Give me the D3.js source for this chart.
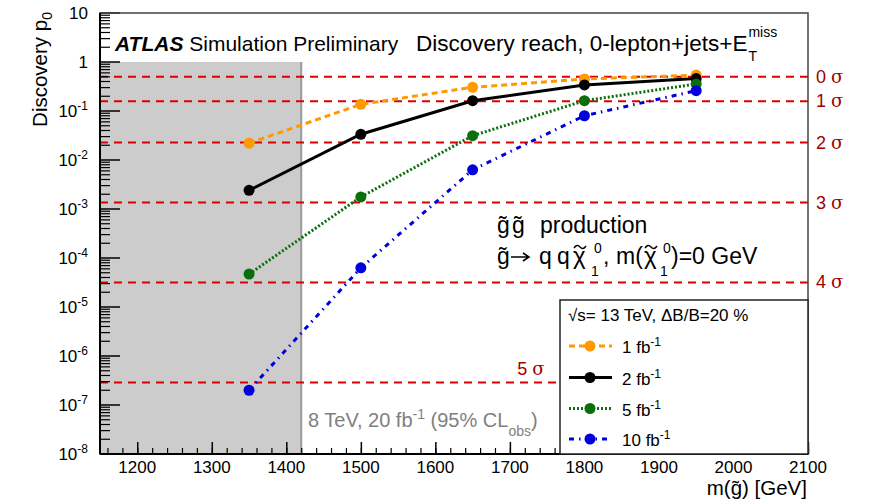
<!DOCTYPE html>
<html>
<head>
<meta charset="utf-8">
<script src="https://cdn.jsdelivr.net/npm/d3@7"></script>
<style>
  body { margin: 0; background: #fff; }
  svg text { font-family: "Liberation Sans", Arial, Helvetica, sans-serif; }
</style>
</head>
<body>
<svg id="chart" width="869" height="501"></svg>
<script>
// gluino masses (GeV)
const masses = [1350, 1500, 1650, 1800, 1950];

// discovery p0 per luminosity
const p0_1fb = [0.022, 0.137, 0.305, 0.45, 0.54];
const p0_2fb = [0.0024, 0.0335, 0.162, 0.34, 0.46];
const p0_5fb = [4.7e-5, 0.00176, 0.0313, 0.162, 0.356];
const p0_10fb = [2.0e-7, 6.3e-5, 0.0063, 0.080, 0.26];

const seriesLabels = ["1", "2", "5", "10"];
const seriesColors = ["#ff9900", "#000000", "#0a6e0a", "#0000dd"];
const seriesDash = ["6,4", null, "2,2", "5,5,1.5,5"];

// significance reference lines
const sigmaLevels = [0, 1, 2, 3, 4, 5];
const sigmaP0 = [0.5, 0.1587, 0.02275, 0.00135, 3.17e-5, 2.87e-7];

// excluded region (8 TeV)
const excludedMax = 1420;

const xTicks = [1200, 1300, 1400, 1500, 1600, 1700, 1800, 1900, 2000, 2100];
const yExponents = [1, 0, -1, -2, -3, -4, -5, -6, -7, -8];

const margin = { top: 13, right: 61, bottom: 47, left: 100 };
const width = 869 - margin.left - margin.right;
const height = 501 - margin.top - margin.bottom;

const svg = d3.select("#chart");
const g = svg.append("g").attr("transform", "translate(" + margin.left + "," + margin.top + ")");

const x = d3.scaleLinear().domain([1150, 2100]).range([0, width]);
const y = d3.scaleLog().domain([1e-8, 10]).range([height, 0]);

// gray excluded band
g.append("rect")
  .attr("x", x(1150))
  .attr("y", y(1))
  .attr("width", x(excludedMax) - x(1150))
  .attr("height", y(1e-8) - y(1))
  .attr("fill", "#cccccc");
g.append("line")
  .attr("x1", x(excludedMax)).attr("x2", x(excludedMax))
  .attr("y1", y(1)).attr("y2", y(1e-8))
  .attr("stroke", "#999").attr("stroke-width", 2);

// sigma lines
g.selectAll(".sigma")
  .data(sigmaP0)
  .enter()
  .append("line")
  .attr("class", "sigma")
  .attr("x1", 0).attr("x2", width)
  .attr("y1", (d) => y(d)).attr("y2", (d) => y(d))
  .attr("stroke", "#dd0000")
  .attr("stroke-width", 2)
  .attr("stroke-dasharray", "8,6");

// curves
const allSeries = [p0_1fb, p0_2fb, p0_5fb, p0_10fb];
const line = d3.line().x((d, i) => x(masses[i])).y((d) => y(d));

allSeries.forEach((vals, k) => {
  g.append("path")
    .attr("d", line(vals))
    .attr("fill", "none")
    .attr("stroke", seriesColors[k])
    .attr("stroke-width", 3)
    .attr("stroke-dasharray", seriesDash[k]);
});
allSeries.forEach((vals, k) => {
  g.selectAll(".pt" + k)
    .data(vals)
    .enter()
    .append("circle")
    .attr("cx", (d, i) => x(masses[i]))
    .attr("cy", (d) => y(d))
    .attr("r", 5.5)
    .attr("fill", seriesColors[k]);
});

// axes
const xAxis = d3.axisBottom(x).tickValues(d3.range(1160, 2101, 20)).tickSize(6).tickFormat("");
g.append("g").attr("transform", "translate(0," + height + ")").call(xAxis)
  .call((a) => a.selectAll("line").attr("transform", "translate(0,-6)").attr("stroke-width", 1.2));
g.append("g").attr("transform", "translate(0," + height + ")")
  .call(d3.axisBottom(x).tickValues(xTicks).tickSize(12).tickFormat(""))
  .call((a) => a.selectAll("line").attr("transform", "translate(0,-12)").attr("stroke-width", 1.5));
g.selectAll(".domain").remove();

g.selectAll(".xlab")
  .data(xTicks)
  .enter()
  .append("text")
  .attr("x", (d) => x(d))
  .attr("y", height + 19)
  .attr("text-anchor", "middle")
  .attr("font-size", 17)
  .attr("fill", "#000")
  .text((d) => d);

// y ticks (log minor and major)
const yMinor = [];
for (let e = -8; e < 1; e++) for (let m = 2; m <= 9; m++) yMinor.push(m * Math.pow(10, e));
g.selectAll(".yminor")
  .data(yMinor)
  .enter()
  .append("line")
  .attr("x1", 0).attr("x2", 10)
  .attr("y1", (d) => y(d)).attr("y2", (d) => y(d))
  .attr("stroke", "#000").attr("stroke-width", 1.2);
g.selectAll(".ymajor")
  .data(yExponents)
  .enter()
  .append("line")
  .attr("x1", 0).attr("x2", 20)
  .attr("y1", (d) => y(Math.pow(10, d))).attr("y2", (d) => y(Math.pow(10, d)))
  .attr("stroke", "#000").attr("stroke-width", 1.5);

const ylab = g.selectAll(".ylab")
  .data(yExponents)
  .enter()
  .append("text")
  .attr("x", -12)
  .attr("y", (d) => y(Math.pow(10, d)) + 6)
  .attr("text-anchor", "end")
  .attr("font-size", 17)
  .attr("fill", "#000");
ylab.each(function (d) {
  const t = d3.select(this);
  if (d === 1) t.text("10");
  else if (d === 0) t.text("1");
  else {
    t.append("tspan").text("10");
    t.append("tspan").attr("dy", -7).attr("font-size", 12).text(d);
  }
});

// frame
g.append("rect")
  .attr("x", 0).attr("y", 0).attr("width", width).attr("height", height)
  .attr("fill", "none").attr("stroke", "#444").attr("stroke-width", 1.5);
g.append("line").attr("x1", 0).attr("x2", 0).attr("y1", 0).attr("y2", height)
  .attr("stroke", "#000").attr("stroke-width", 2);
g.append("line").attr("x1", 0).attr("x2", width).attr("y1", height).attr("y2", height)
  .attr("stroke", "#000").attr("stroke-width", 2);

// sigma labels
sigmaLevels.forEach((s, i) => {
  const inside = s === 5;
  const t = g.append("text")
    .attr("x", inside ? x(1710) : width + 8)
    .attr("y", y(sigmaP0[i]) + (inside ? -8 : 6))
    .attr("fill", "#a00000")
    .attr("font-size", 18);
  t.append("tspan").text(s + " ");
  t.append("tspan").attr("font-family", "DejaVu Serif, serif").attr("font-size", 18).text("σ");
});

// legend
const lx = 560 - margin.left, ly = 300 - margin.top;
g.append("rect")
  .attr("x", lx).attr("y", ly)
  .attr("width", width - lx).attr("height", height - ly)
  .attr("fill", "#fff").attr("stroke", "#222").attr("stroke-width", 1.5);
g.append("text").attr("x", lx + 8).attr("y", ly + 21).attr("font-size", 17).attr("fill", "#000")
  .text("√s= 13 TeV, ΔB/B=20 %");
const rowY = [346, 377.5, 408.5, 439];
seriesLabels.forEach((lab, k) => {
  const ry = rowY[k] - margin.top;
  g.append("line")
    .attr("x1", lx + 9).attr("x2", lx + 52)
    .attr("y1", ry).attr("y2", ry)
    .attr("stroke", seriesColors[k]).attr("stroke-width", 3)
    .attr("stroke-dasharray", seriesDash[k]);
  g.append("circle").attr("cx", lx + 30).attr("cy", ry).attr("r", 5.5).attr("fill", seriesColors[k]);
  const t = g.append("text").attr("x", lx + 62).attr("y", ry + 7).attr("font-size", 17).attr("fill", "#000");
  t.append("tspan").text(lab + " fb");
  t.append("tspan").attr("dy", -7).attr("font-size", 12).text("-1");
});

// texts
const atl = svg.append("text").attr("x", 115).attr("y", 51).attr("font-size", 21).attr("fill", "#000");
atl.append("tspan").attr("font-weight", "bold").attr("font-style", "italic").text("ATLAS");
atl.append("tspan").text(" Simulation Preliminary");

const ttl = svg.append("text").attr("x", 416).attr("y", 51).attr("font-size", 22.5).attr("fill", "#000")
  .text("Discovery reach, 0-lepton+jets+E");
const ttlEnd = 416 + ttl.node().getComputedTextLength();
svg.append("text").attr("x", ttlEnd + 1).attr("y", 37).attr("font-size", 14).text("miss");
svg.append("text").attr("x", ttlEnd + 1).attr("y", 61).attr("font-size", 14).text("T");

const obs = svg.append("text").attr("x", 308).attr("y", 427).attr("font-size", 20).attr("fill", "#808080");
obs.append("tspan").text("8 TeV, 20 fb");
obs.append("tspan").attr("dy", -8).attr("font-size", 14).text("-1");
obs.append("tspan").attr("dy", 8).text(" (95% CL");
obs.append("tspan").attr("dy", 9).attr("font-size", 14).text("obs");
obs.append("tspan").attr("dy", -9).text(")");

// process label, placed piece by piece (ROOT-style latex)
function piece(txt, px, py, size) {
  svg.append("text")
    .attr("x", px).attr("y", py)
    .attr("font-size", size)
    .attr("fill", "#000")
    .text(txt);
}
function tilde(cx, cy) {
  svg.append("path")
    .attr("d", "M" + (cx - 6) + "," + (cy + 1) + " q3,-4.5 6,-1 t6,-1")
    .attr("fill", "none").attr("stroke", "#000").attr("stroke-width", 1.4);
}
piece("g\u0303", 497, 233, 23);
piece("g\u0303", 512, 233, 23);
piece("production", 540, 233, 23);

const dy2 = 264;
piece("g\u0303", 497, dy2, 23);
// arrow
svg.append("path")
  .attr("d", "M511," + (dy2 - 7) + " H528 M523," + (dy2 - 11) + " L529," + (dy2 - 7) + " L523," + (dy2 - 3))
  .attr("fill", "none").attr("stroke", "#000").attr("stroke-width", 1.6);
piece("q", 539, dy2, 23);
piece("q", 557, dy2, 23);
piece("χ", 573, dy2, 24);
tilde(580, dy2 - 17);
piece("0", 594, dy2 - 11, 14);
piece("1", 591, dy2 + 12, 14);
piece(",", 603, dy2, 23);
piece("m(", 616, dy2, 23);
piece("χ", 644, dy2, 24);
tilde(651, dy2 - 17);
piece("0", 663, dy2 - 11, 14);
piece("1", 660, dy2 + 12, 14);
piece(")=0 GeV", 671, dy2, 23);

// axis titles
svg.append("text")
  .attr("x", 807).attr("y", 495)
  .attr("text-anchor", "end")
  .attr("font-size", 20.5)
  .attr("fill", "#000")
  .text("m(g\u0303) [GeV]");

const yt = svg.append("text")
  .attr("transform", "translate(47,12) rotate(-90)")
  .attr("text-anchor", "end")
  .attr("font-size", 20.5)
  .attr("fill", "#000");
yt.append("tspan").text("Discovery p");
yt.append("tspan").attr("font-size", 14).attr("dy", 5).text("0");
</script>
</body>
</html>
